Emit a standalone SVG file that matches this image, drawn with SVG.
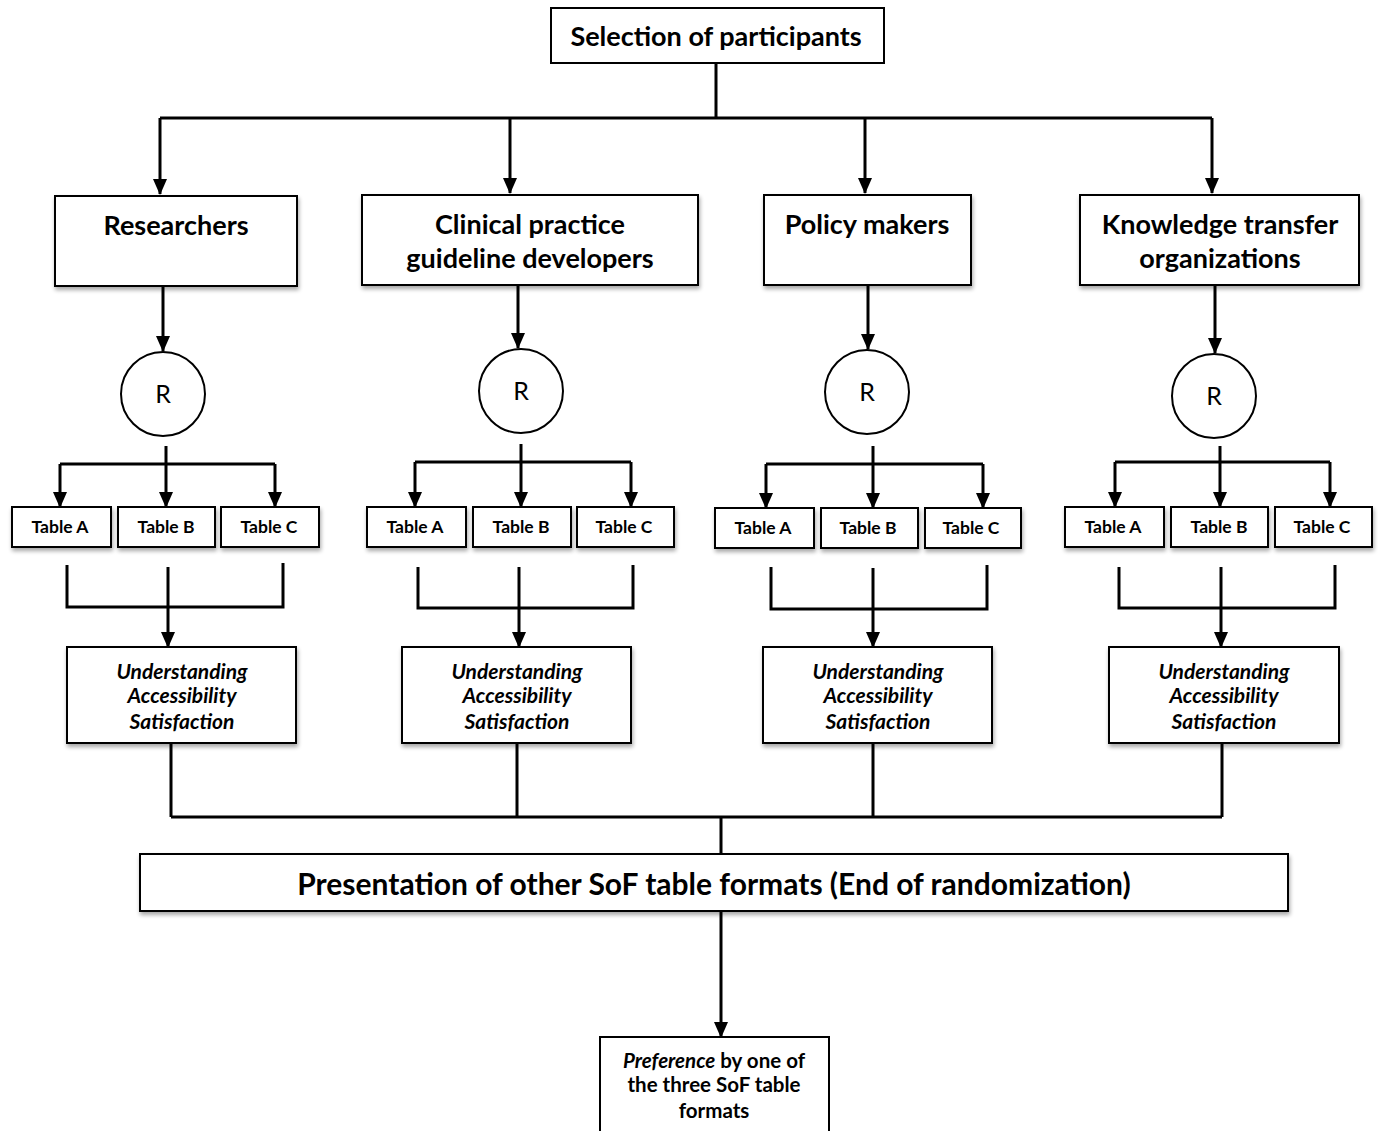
<svg xmlns="http://www.w3.org/2000/svg" width="1378" height="1131" viewBox="0 0 1378 1131">
<style>
text{font-family:Lato,"Open Sans","DejaVu Sans",sans-serif;font-weight:bold;fill:#000;text-anchor:middle}
.box{fill:#fff;stroke:#000;stroke-width:2}
.sh{filter:url(#shadow)}
.t1{font-size:27px}
.tab{font-size:17.5px}
.it{font-size:21px;font-style:italic}
.r{font-size:25px;font-weight:normal}
.big{font-size:30px}
.pref{font-size:20.5px}
.ln{fill:none;stroke:#000;stroke-width:3}
.ar{fill:none;stroke:#000;stroke-width:3;marker-end:url(#ah)}
</style>
<defs>
<marker id="ah" markerUnits="userSpaceOnUse" markerWidth="16" markerHeight="16" refX="15" refY="8" orient="auto" viewBox="0 0 16 16">
<path d="M0,1 L16,8 L0,15 Z" fill="#000"/>
</marker>
<filter id="shadow" x="-10%" y="-10%" width="130%" height="140%">
<feGaussianBlur in="SourceAlpha" stdDeviation="2"/>
<feOffset dx="1" dy="3" result="o"/>
<feComponentTransfer><feFuncA type="linear" slope="0.35"/></feComponentTransfer>
<feMerge><feMergeNode/><feMergeNode in="SourceGraphic"/></feMerge>
</filter>
</defs>
<rect width="1378" height="1131" fill="#fff"/>

<g id="connectors">
<path class="ln" d="M716,63 V118 M160,118 H1212"/>
<path class="ar" d="M160,118 V194"/>
<path class="ar" d="M510,118 V193"/>
<path class="ar" d="M865,118 V193"/>
<path class="ar" d="M1212,118 V193"/>
<path class="ar" d="M163,286 V351"/>
<path class="ar" d="M518,285 V348"/>
<path class="ar" d="M868,285 V349"/>
<path class="ar" d="M1215,285 V353"/>
<path class="ln" d="M60,464 H275"/>
<path class="ar" d="M60,464 V507"/>
<path class="ar" d="M166,446 V507"/>
<path class="ar" d="M275,464 V507"/>
<path class="ln" d="M415,462 H631"/>
<path class="ar" d="M415,462 V507"/>
<path class="ar" d="M521,444 V507"/>
<path class="ar" d="M631,462 V507"/>
<path class="ln" d="M766,464 H983"/>
<path class="ar" d="M766,464 V508"/>
<path class="ar" d="M873,446 V508"/>
<path class="ar" d="M983,464 V508"/>
<path class="ln" d="M1115,462 H1330"/>
<path class="ar" d="M1115,462 V507"/>
<path class="ar" d="M1220,446 V507"/>
<path class="ar" d="M1330,462 V507"/>
<path class="ln" d="M67,565 V607 H283 V563"/>
<path class="ar" d="M168,567 V647"/>
<path class="ln" d="M418,567 V608 H633 V565"/>
<path class="ar" d="M519,567 V647"/>
<path class="ln" d="M771,567 V609 H987 V565"/>
<path class="ar" d="M873,568 V647"/>
<path class="ln" d="M1119,567 V608 H1335 V565"/>
<path class="ar" d="M1221,567 V647"/>
<path class="ln" d="M171,743 V817 M517,743 V817 M873,743 V817 M1222,743 V817 M171,817 H1222 M721,817 V854"/>
<path class="ar" d="M721,911 V1037"/>
</g>

<g id="n-selection"><rect class="box" x="551" y="8" width="333" height="55"/><text class="t1" x="716" y="46">Selection of participants</text></g>

<g id="n-researchers"><rect class="box sh" x="55" y="196" width="242" height="90"/><text class="t1" x="176" y="235">Researchers</text></g>
<g id="n-clinical"><rect class="box sh" x="362" y="195" width="336" height="90"/><text class="t1" x="530" y="234">Clinical practice</text><text class="t1" x="530" y="268">guideline developers</text></g>
<g id="n-policy"><rect class="box sh" x="764" y="195" width="207" height="90"/><text class="t1" x="867" y="234">Policy makers</text></g>
<g id="n-knowledge"><rect class="box sh" x="1080" y="195" width="279" height="90"/><text class="t1" x="1220" y="234">Knowledge transfer</text><text class="t1" x="1220" y="268">organizations</text></g>

<g id="n-r1"><circle class="box" cx="163" cy="394" r="42"/><text class="r" x="163" y="403">R</text></g>
<g id="n-r2"><circle class="box" cx="521" cy="391" r="42"/><text class="r" x="521" y="400">R</text></g>
<g id="n-r3"><circle class="box" cx="867" cy="392" r="42"/><text class="r" x="867" y="401">R</text></g>
<g id="n-r4"><circle class="box" cx="1214" cy="396" r="42"/><text class="r" x="1214" y="405">R</text></g>

<g id="n-t1a"><rect class="box sh" x="12" y="507" width="99" height="40"/><text class="tab" x="60" y="533">Table A</text></g>
<g id="n-t1b"><rect class="box sh" x="118" y="507" width="97" height="40"/><text class="tab" x="166" y="533">Table B</text></g>
<g id="n-t1c"><rect class="box sh" x="221" y="507" width="98" height="40"/><text class="tab" x="269" y="533">Table C</text></g>
<g id="n-t2a"><rect class="box sh" x="367" y="507" width="99" height="40"/><text class="tab" x="415" y="533">Table A</text></g>
<g id="n-t2b"><rect class="box sh" x="473" y="507" width="98" height="40"/><text class="tab" x="521" y="533">Table B</text></g>
<g id="n-t2c"><rect class="box sh" x="577" y="507" width="97" height="40"/><text class="tab" x="624" y="533">Table C</text></g>
<g id="n-t3a"><rect class="box sh" x="715" y="508" width="99" height="40"/><text class="tab" x="763" y="534">Table A</text></g>
<g id="n-t3b"><rect class="box sh" x="821" y="508" width="97" height="40"/><text class="tab" x="868" y="534">Table B</text></g>
<g id="n-t3c"><rect class="box sh" x="925" y="508" width="96" height="40"/><text class="tab" x="971" y="534">Table C</text></g>
<g id="n-t4a"><rect class="box sh" x="1065" y="507" width="99" height="40"/><text class="tab" x="1113" y="533">Table A</text></g>
<g id="n-t4b"><rect class="box sh" x="1171" y="507" width="97" height="40"/><text class="tab" x="1219" y="533">Table B</text></g>
<g id="n-t4c"><rect class="box sh" x="1275" y="507" width="97" height="40"/><text class="tab" x="1322" y="533">Table C</text></g>

<g id="n-o1"><rect class="box sh" x="67" y="647" width="229" height="96"/><text class="it" x="182" y="679">Understanding</text><text class="it" x="182" y="703">Accessibility</text><text class="it" x="182" y="729">Satisfaction</text></g>
<g id="n-o2"><rect class="box sh" x="402" y="647" width="229" height="96"/><text class="it" x="517" y="679">Understanding</text><text class="it" x="517" y="703">Accessibility</text><text class="it" x="517" y="729">Satisfaction</text></g>
<g id="n-o3"><rect class="box sh" x="763" y="647" width="229" height="96"/><text class="it" x="878" y="679">Understanding</text><text class="it" x="878" y="703">Accessibility</text><text class="it" x="878" y="729">Satisfaction</text></g>
<g id="n-o4"><rect class="box sh" x="1109" y="647" width="230" height="96"/><text class="it" x="1224" y="679">Understanding</text><text class="it" x="1224" y="703">Accessibility</text><text class="it" x="1224" y="729">Satisfaction</text></g>

<g id="n-presentation"><rect class="box sh" x="140" y="854" width="1148" height="57"/><text class="big" x="714" y="895">Presentation of other SoF table formats (End of randomization)</text></g>

<g id="n-preference"><rect class="box" x="600" y="1037" width="229" height="100"/><text class="pref" x="714" y="1068"><tspan font-style="italic">Preference</tspan> by one of</text><text class="pref" x="714" y="1092">the three SoF table</text><text class="pref" x="714" y="1118">formats</text></g>
</svg>
